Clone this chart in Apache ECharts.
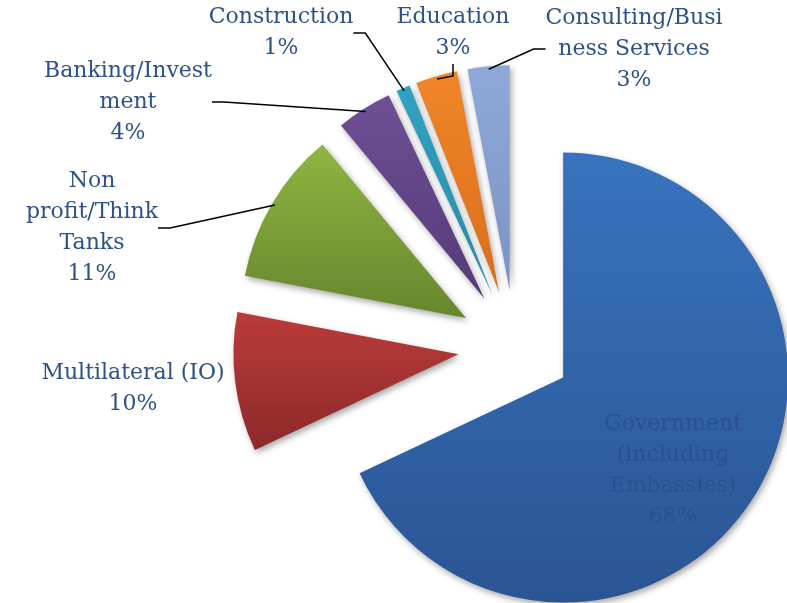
<!DOCTYPE html>
<html>
<head>
<meta charset="utf-8">
<script src="https://cdn.jsdelivr.net/npm/echarts@6/dist/echarts.min.js"></script>
<style>
  html, body { margin: 0; padding: 0; background: #fff; }
  #chart { width: 787px; height: 603px; }
</style>
</head>
<body>
<div id="chart"></div>
<script>
const categories = [
  'Government\n(including\nEmbassies)',
  'Multilateral (IO)',
  'Non\nprofit/Think\nTanks',
  'Banking/Invest\nment',
  'Construction',
  'Education',
  'Consulting/Busi\nness Services',
];
const shares = [68, 10, 11, 4, 1, 3, 3];

// top / bottom gradient stops for each slice
const topColors = ['#3873bd', '#bb3b3b', '#8fb542', '#6e4f95', '#31a3c2', '#f08628', '#8ea9d8'];
const bottomColors = ['#2a5594', '#8c2929', '#66862c', '#553a77', '#2a88a3', '#d96e1c', '#7b93c2'];

// label block centres (text only)
const labelPos = [
  [673, 471],
  [133, 389],
  [92, 228],
  [128, 102],
  [281, 33],
  [453, 33],
  [634, 49],
];

const CENTER = [515, 347];
const RADIUS = 225;
const EXPLODE = 57;

const chart = echarts.init(document.getElementById('chart'));

const sliceData = categories.map((name, i) => ({
  name,
  value: shares[i],
  selected: true,
  itemStyle: {
    color: new echarts.graphic.LinearGradient(0, 0, 0, 1, [
      { offset: 0, color: topColors[i] },
      { offset: 1, color: bottomColors[i] },
    ]),
  },
}));

// invisible copy of the pie, sized to the exploded outline, only carries the labels
const labelData = categories.map((name, i) => ({
  name,
  value: shares[i],
  label: i === 0 ? { color: '#2a5190' } : {},
  labelLine: { show: i > 1 },
}));

chart.setOption({
  animation: false,
  series: [
    {
      type: 'pie',
      center: CENTER,
      radius: RADIUS,
      startAngle: 90,
      clockwise: true,
      selectedMode: 'multiple',
      selectedOffset: EXPLODE,
      itemStyle: {
        shadowBlur: 6,
        shadowOffsetX: 2,
        shadowOffsetY: 3,
        shadowColor: 'rgba(0, 0, 0, 0.35)',
      },
      emphasis: { disabled: true },
      label: { show: false },
      labelLine: { show: false },
      data: sliceData,
    },
    {
      type: 'pie',
      silent: true,
      z: 3,
      center: CENTER,
      radius: RADIUS + EXPLODE - 3,
      startAngle: 90,
      clockwise: true,
      avoidLabelOverlap: false,
      itemStyle: { color: 'rgba(0,0,0,0)' },
      emphasis: { disabled: true },
      label: {
        show: true,
        position: 'outside',
        formatter: (p) => `${p.name}\n${p.value}%`,
        fontFamily: 'DejaVu Serif',
        fontSize: 22,
        lineHeight: 31,
        color: '#2c5288',
        align: 'center',
      },
      labelLine: {
        show: true,
        length: 20,
        length2: 12,
        lineStyle: { color: '#000', width: 1.5 },
      },
      labelLayout: (params) => ({
        x: labelPos[params.dataIndex][0],
        y: labelPos[params.dataIndex][1],
        align: 'center',
        verticalAlign: 'middle',
      }),
      data: labelData,
    },
  ],
});
</script>
</body>
</html>
